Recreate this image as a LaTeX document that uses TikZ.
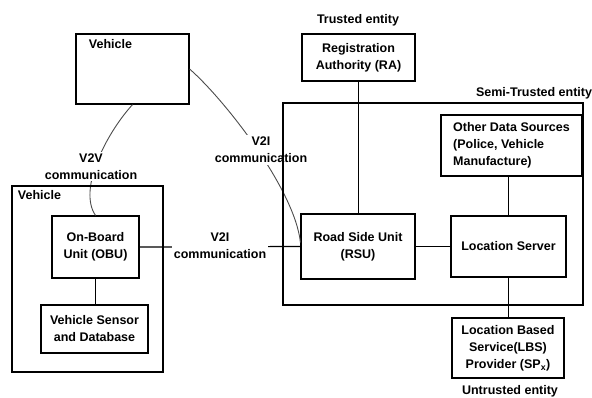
\documentclass[tikz,border=0pt]{standalone}
\usepackage{fontspec}
\setmainfont{Liberation Sans}
\usepackage{tikz}

\begin{document}
\begin{tikzpicture}[x=1pt, y=-1pt,
  txtfont/.style={font=\bfseries\fontsize{12.5}{17}\selectfont},
  unitbox/.style={draw=black, line width=1.2pt, align=center, txtfont,
                  inner sep=2pt},
  framebox/.style={draw=black, line width=1.2pt},
  commtag/.style={fill=white, align=center, txtfont, inner sep=2pt},
  tagtext/.style={txtfont, align=center},
  plainline/.style={line width=1.2pt, black},
  commcurve/.style={line width=0.9pt, black!70}
]
\useasboundingbox (0,0) rectangle (592,397);
%% Units
\node[unitbox, minimum width=113pt, minimum height=70pt,
      label={[anchor=north west, xshift=10pt, yshift=-3pt, txtfont]north west:Vehicle}]
      (VEH) at (132.5,69) {};
\node[unitbox, minimum width=113pt, minimum height=47pt] (RA)  at (358.5,57.5) {Registration\\Authority (RA)};
\node[unitbox, minimum width=114pt, minimum height=65pt] (RSU) at (358,246.5)  {Road Side Unit\\(RSU)};
\node[unitbox, minimum width=141pt, minimum height=61pt, align=left] (ODS) at (511.5,145.5)
      {Other Data Sources\\(Police, Vehicle\\Manufacture)};
\node[unitbox, minimum width=115pt, minimum height=61pt] (LS)  at (508.5,246.5) {Location Server};
\node[unitbox, minimum width=112pt, minimum height=60pt] (LBS) at (508,348)     {Location Based\\Service(LBS)\\Provider (SP\textsubscript{x})};
\node[unitbox, minimum width=87pt,  minimum height=62pt] (OBU) at (95.5,247)    {On-Board\\Unit (OBU)};
\node[unitbox, minimum width=107pt, minimum height=48pt] (VSD) at (94.5,329)    {Vehicle Sensor\\and Database};
%% Plain links
\draw[plainline] (RA.south) -- (RA.south |- RSU.north);
\draw[plainline] (RSU.east) -- (LS.west);
\draw[plainline] (LS.north) -- (LS.north |- ODS.south);
\draw[plainline] (LS.south) -- (LS.south |- LBS.north);
\draw[plainline] (OBU.south) -- (OBU.south |- VSD.north);
\draw[plainline] (OBU.east) -- (RSU.west);
%% Wireless links
\draw[commcurve] (VEH.south) .. controls (105,135) and (78,190) .. (OBU.north);
\draw[commcurve] (VEH.east) .. controls (225,100) and (295,190) .. ([yshift=4pt]RSU.west);
\node[commtag] (v2v)  at (91,166.5) {V2V\\communication};
\node[commtag] (v2iA) at (261,150)  {V2I\\communication};
\node[commtag] (v2iB) at (220,245.5) {V2I\\communication};
%% Entity frames
\node[framebox, minimum width=300pt, minimum height=202pt,
      label={[anchor=south east, xshift=12pt, txtfont]north east:Semi-Trusted entity}]
      (SEMI) at (433,204) {};
\node[framebox, minimum width=151pt, minimum height=186pt,
      label={[anchor=north west, xshift=3pt, yshift=-2pt, txtfont]north west:Vehicle}]
      (CAR) at (87.5,279) {};
\node[tagtext] (trusted)   at (358,20)  {Trusted entity};
\node[tagtext] (untrusted) at (510,391) {Untrusted entity};
\end{tikzpicture}
\end{document}
